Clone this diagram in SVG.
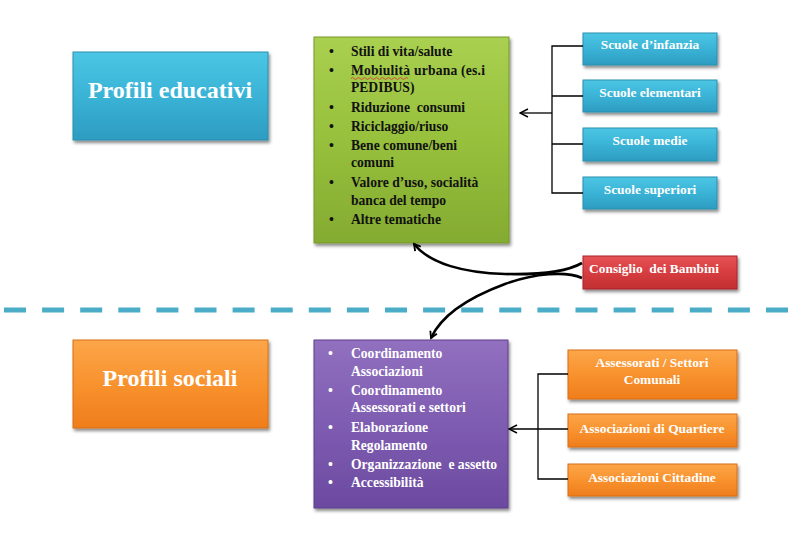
<svg xmlns="http://www.w3.org/2000/svg" width="803" height="538" viewBox="0 0 803 538">
<defs>
<linearGradient id="gBlue" x1="0" y1="0" x2="0" y2="1"><stop offset="0" stop-color="#4cc6e4"/><stop offset="0.5" stop-color="#3ab3d6"/><stop offset="1" stop-color="#2d9cc0"/></linearGradient>
<linearGradient id="gGreen" x1="0" y1="0" x2="0" y2="1"><stop offset="0" stop-color="#a9d050"/><stop offset="0.5" stop-color="#97c03c"/><stop offset="1" stop-color="#84ab31"/></linearGradient>
<linearGradient id="gPurple" x1="0" y1="0" x2="0" y2="1"><stop offset="0" stop-color="#9170bf"/><stop offset="0.5" stop-color="#7e5cb1"/><stop offset="1" stop-color="#6c4aa0"/></linearGradient>
<linearGradient id="gOrange" x1="0" y1="0" x2="0" y2="1"><stop offset="0" stop-color="#fca649"/><stop offset="0.5" stop-color="#f8922e"/><stop offset="1" stop-color="#ef7d1c"/></linearGradient>
<linearGradient id="gRed" x1="0" y1="0" x2="0" y2="1"><stop offset="0" stop-color="#e55356"/><stop offset="0.5" stop-color="#d63d40"/><stop offset="1" stop-color="#c22f32"/></linearGradient>
<filter id="sh" x="-10%" y="-10%" width="125%" height="135%"><feDropShadow dx="1.5" dy="2.5" stdDeviation="1.8" flood-color="#000" flood-opacity="0.45"/></filter>
<marker id="open" viewBox="0 0 10 10" refX="9" refY="5" markerWidth="10" markerHeight="10" markerUnits="userSpaceOnUse" orient="auto"><path d="M1 1 L9 5 L1 9" fill="none" stroke="#000" stroke-width="1.4"/></marker>
<marker id="curv" viewBox="0 0 10 10" refX="8" refY="5" markerWidth="9" markerHeight="9" markerUnits="userSpaceOnUse" orient="auto"><path d="M1 1 L8 5 L1 9" fill="none" stroke="#000" stroke-width="2"/></marker>
</defs>
<style>
.box{stroke-width:1;filter:url(#sh)}
.b{fill:url(#gBlue);stroke:#2a8fb0}
.gr{fill:url(#gGreen);stroke:#76992b}
.pu{fill:url(#gPurple);stroke:#5d3f8c}
.or{fill:url(#gOrange);stroke:#d86f15}
.rd{fill:url(#gRed);stroke:#a82528}
text{font-family:"Liberation Serif","Times New Roman",serif;font-weight:bold}
.big{font-size:24px;fill:#fff;text-anchor:middle}
.sm{font-size:13.4px;fill:#fff;text-anchor:middle}
.lst{font-size:13.6px;fill:#111}
.lstw{font-size:13.6px;fill:#fff}
.bul{font-size:14px}
.ln{fill:none;stroke:#000;stroke-width:1.3}
.cv{fill:none;stroke:#000;stroke-width:2.6}
.dash{stroke:#4aacc7;stroke-width:5;stroke-dasharray:22 16.1}
</style>

<line class="dash" x1="4" y1="310" x2="790" y2="310"/>

<g id="profili-educativi"><rect class="box b" x="73" y="52" width="195" height="88"/><text class="big" x="170" y="98">Profili educativi</text></g>
<g id="profili-sociali"><rect class="box or" x="73" y="340" width="195" height="88"/><text class="big" x="170" y="386">Profili sociali</text></g>

<g id="temi-educativi"><rect class="box gr" x="314" y="37" width="195" height="206"/>
<g class="lst">
<text class="bul" x="329" y="56">•</text><text x="351" y="56">Stili di vita/salute</text>
<text class="bul" x="329" y="75">•</text><text x="351" y="75" textLength="134" lengthAdjust="spacing">Mobiulità urbana (es.i</text>
<text x="351" y="92">PEDIBUS)</text>
<text class="bul" x="329" y="112">•</text><text x="351" y="112" xml:space="preserve">Riduzione  consumi</text>
<text class="bul" x="329" y="131">•</text><text x="351" y="131">Riciclaggio/riuso</text>
<text class="bul" x="329" y="150">•</text><text x="351" y="150">Bene comune/beni</text>
<text x="351" y="167">comuni</text>
<text class="bul" x="329" y="187">•</text><text x="351" y="187">Valore d’uso, socialità</text>
<text x="351" y="205">banca del tempo</text>
<text class="bul" x="329" y="224">•</text><text x="351" y="224">Altre tematiche</text>
</g>
<path d="M351 78.5 q1.5 -2 3 0 t3 0 t3 0 t3 0 t3 0 t3 0 t3 0 t3 0 t3 0 t3 0 t3 0 t3 0 t3 0 t3 0 t3 0 t3 0 t3 0 t3 0 t3 0" fill="none" stroke="#e03030" stroke-width="0.8"/>
</g>

<g id="temi-sociali"><rect class="box pu" x="314" y="340" width="194" height="168"/>
<g class="lstw">
<text class="bul" x="328" y="358">•</text><text x="351" y="358">Coordinamento</text>
<text x="351" y="376">Associazioni</text>
<text class="bul" x="328" y="395">•</text><text x="351" y="395">Coordinamento</text>
<text x="351" y="412">Assessorati e settori</text>
<text class="bul" x="328" y="432">•</text><text x="351" y="432">Elaborazione</text>
<text x="351" y="450">Regolamento</text>
<text class="bul" x="328" y="469">•</text><text x="351" y="469" xml:space="preserve">Organizzazione  e assetto</text>
<text class="bul" x="328" y="487">•</text><text x="351" y="487">Accessibilità</text>
</g></g>

<g id="scuole-infanzia"><rect class="box b" x="583" y="33" width="134" height="32"/><text class="sm" x="650" y="49">Scuole d’infanzia</text></g>
<g id="scuole-elementari"><rect class="box b" x="583" y="80" width="134" height="32"/><text class="sm" x="650" y="97">Scuole elementari</text></g>
<g id="scuole-medie"><rect class="box b" x="583" y="128" width="134" height="33"/><text class="sm" x="650" y="145">Scuole medie</text></g>
<g id="scuole-superiori"><rect class="box b" x="583" y="177" width="134" height="32"/><text class="sm" x="650" y="194">Scuole superiori</text></g>

<g id="consiglio-bambini"><rect class="box rd" x="583" y="256" width="154" height="33"/><text class="sm" x="654" y="273" xml:space="preserve">Consiglio  dei Bambini</text></g>

<g id="assessorati"><rect class="box or" x="568" y="350" width="169" height="49"/><text class="sm" x="652" y="367">Assessorati / Settori</text><text class="sm" x="652" y="384">Comunali</text></g>
<g id="associazioni-quartiere"><rect class="box or" x="568" y="414" width="169" height="33"/><text class="sm" x="652" y="433">Associazioni di Quartiere</text></g>
<g id="associazioni-cittadine"><rect class="box or" x="568" y="464" width="169" height="32"/><text class="sm" x="652" y="482">Associazioni Cittadine</text></g>

<g id="connectors">
<path class="ln" d="M583 46 H552 V193 H583 M552 96 H583 M552 144 H583"/>
<path class="ln" d="M552 113 H520" marker-end="url(#open)"/>
<path class="ln" d="M568 374 H538 V479 H568"/>
<path class="ln" d="M568 429 H509" marker-end="url(#open)"/>
<path class="cv" d="M582 263 C568 271, 545 275, 505 274 C465 273, 430 264, 414 244" marker-end="url(#curv)"/>
<path class="cv" d="M582 278 C566 271, 535 273, 505 284 C470 297, 442 314, 431 338" marker-end="url(#curv)"/>
</g>
</svg>
